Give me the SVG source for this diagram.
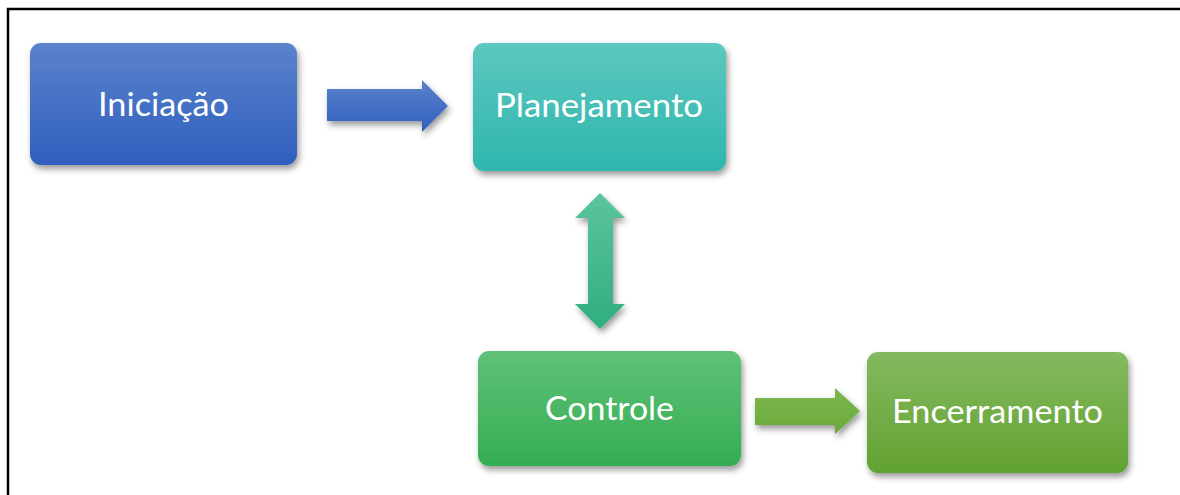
<svg xmlns="http://www.w3.org/2000/svg" width="1180" height="495" viewBox="0 0 1180 495">
<style>
.lbl{font-family:"Lato","Open Sans","Liberation Sans",sans-serif;font-size:33px;fill:#ffffff;text-anchor:middle}
.frame{stroke:#000;stroke-width:2.5;fill:none}
</style>
<defs>
<filter id="sh" x="-10%" y="-10%" width="125%" height="135%">
<feDropShadow dx="2" dy="4" stdDeviation="3" flood-color="#000" flood-opacity="0.4"/>
</filter>
<linearGradient id="gBlue" x1="0" y1="0" x2="0" y2="1"><stop offset="0" stop-color="#5b82cc"/><stop offset="1" stop-color="#2f5fbe"/></linearGradient>
<linearGradient id="gTeal" x1="0" y1="0" x2="0" y2="1"><stop offset="0" stop-color="#5dc8c0"/><stop offset="1" stop-color="#2eb6ad"/></linearGradient>
<linearGradient id="gSea" x1="0" y1="0" x2="0" y2="1"><stop offset="0" stop-color="#5cc49c"/><stop offset="1" stop-color="#30ae7e"/></linearGradient>
<linearGradient id="gGreen" x1="0" y1="0" x2="0" y2="1"><stop offset="0" stop-color="#5fc278"/><stop offset="1" stop-color="#34ad52"/></linearGradient>
<linearGradient id="gOlive" x1="0" y1="0" x2="0" y2="1"><stop offset="0" stop-color="#84b95f"/><stop offset="1" stop-color="#62a232"/></linearGradient>
<linearGradient id="gArrow2" x1="0" y1="0" x2="0" y2="1"><stop offset="0" stop-color="#7db650"/><stop offset="1" stop-color="#68ab38"/></linearGradient>
</defs>
<rect width="1180" height="495" fill="#ffffff"/>
<path class="frame" d="M8,495 V9 H1180"/>

<g id="connectors">
<path d="M327,89 H422 V80 L448,106 L422,132 V121 H327 Z" fill="url(#gBlue)" filter="url(#sh)"/>
<path d="M600,193 L625,218 H613 V304 H625 L600,329 L575,304 H588 V218 H575 Z" fill="url(#gSea)" filter="url(#sh)"/>
<path d="M755,398 H835 V388 L860,411 L835,434 V425 H755 Z" fill="url(#gArrow2)" filter="url(#sh)"/>
</g>

<g id="n-iniciacao">
<rect x="30" y="43" width="267" height="122" rx="11" fill="url(#gBlue)" filter="url(#sh)"/>
<text class="lbl" x="163.5" y="116" textLength="131" lengthAdjust="spacingAndGlyphs">Iniciação</text>
</g>
<g id="n-planejamento">
<rect x="473" y="43" width="253" height="128" rx="11" fill="url(#gTeal)" filter="url(#sh)"/>
<text class="lbl" x="599" y="117" textLength="208" lengthAdjust="spacingAndGlyphs">Planejamento</text>
</g>
<g id="n-controle">
<rect x="478" y="351" width="263" height="115" rx="11" fill="url(#gGreen)" filter="url(#sh)"/>
<text class="lbl" x="609.5" y="420" textLength="129" lengthAdjust="spacingAndGlyphs">Controle</text>
</g>
<g id="n-encerramento">
<rect x="867" y="352" width="261" height="121" rx="11" fill="url(#gOlive)" filter="url(#sh)"/>
<text class="lbl" x="997.5" y="423" textLength="211" lengthAdjust="spacingAndGlyphs">Encerramento</text>
</g>
</svg>
